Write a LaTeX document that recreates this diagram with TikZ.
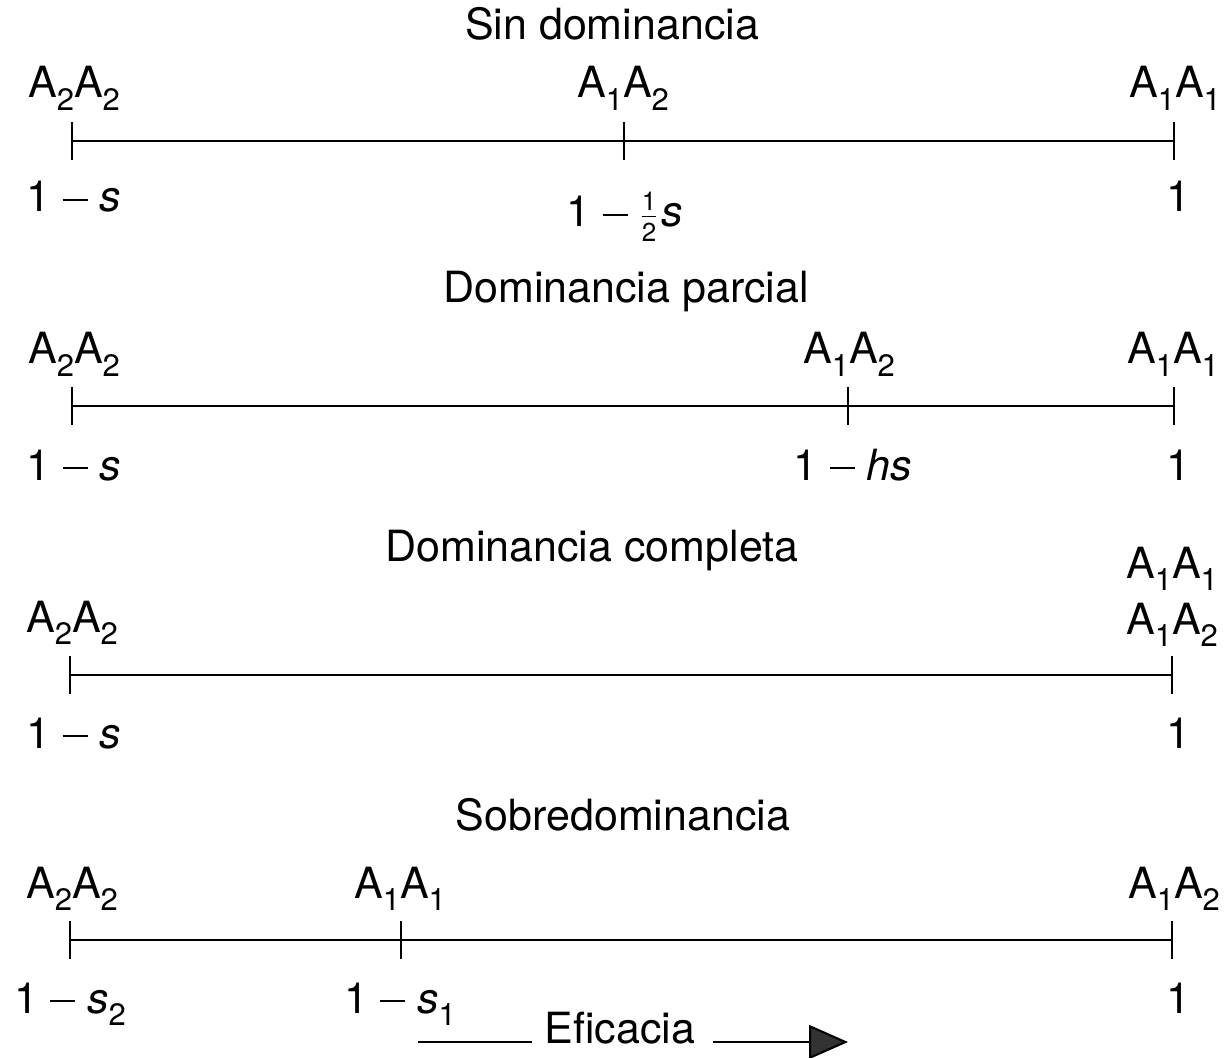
\documentclass[tikz,border=0pt]{standalone}
\usepackage{fontspec}
\setmainfont{TeX Gyre Heros}
\usepackage{graphicx}
\usetikzlibrary{arrows.meta}
\newcommand\lo[1]{\raisebox{-0.28em}{\fontsize{15.5}{16}\selectfont #1}}
\newcommand\gtp[2]{A\lo{#1}A\lo{#2}}
\newcommand\mn{\rule[0.25em]{0.58em}{0.055em}}
\newcommand\halffrac{$\frac{\mbox{\fontsize{13}{13}\selectfont 1}}{\mbox{\fontsize{13}{13}\selectfont 2}}$}
\tikzset{
  axisline/.style={line width=1.05pt},
  tickmark/.style={line width=1.2pt},
  lab/.style={anchor=base, inner sep=0pt, font=\fontsize{21.5}{26}\selectfont},
}
\begin{document}
\begin{tikzpicture}[x=0.5pt,y=-0.5pt]
\path[use as bounding box] (0,0) rectangle (1224,1058);

% ---------- Row 1: Sin dominancia
\node[lab] (t1) at (612,40) {Sin dominancia};
\node[lab] (g11) at (74,98) {\gtp{2}{2}};
\node[lab] (g12) at (623,98) {\gtp{1}{2}};
\node[lab] (g13) at (1175,98) {\gtp{1}{1}};
\coordinate (a1) at (72,141);
\coordinate (b1) at (624,141);
\coordinate (c1) at (1174,141);
\draw[axisline] (a1) -- (c1);
\foreach \p in {a1,b1,c1} \draw[tickmark] ([yshift=9.5pt]\p) -- ([yshift=-9.5pt]\p);
\node[lab] (v11) at (74,212) {1 \mn\ \textit{s}};
\node[lab] (v12) at (625,227) {1 \mn\ \halffrac\kern1.5pt\textit{s}};
\node[lab] (v13) at (1178,212) {1};

% ---------- Row 2: Dominancia parcial
\node[lab] (t2) at (626,303) {Dominancia parcial};
\node[lab] (g21) at (74,364) {\gtp{2}{2}};
\node[lab] (g22) at (849,364) {\gtp{1}{2}};
\node[lab] (g23) at (1173,364) {\gtp{1}{1}};
\coordinate (a2) at (72,406);
\coordinate (b2) at (848,406);
\coordinate (c2) at (1174,406);
\draw[axisline] (a2) -- (c2);
\foreach \p in {a2,b2,c2} \draw[tickmark] ([yshift=9.5pt]\p) -- ([yshift=-9.5pt]\p);
\node[lab] (v21) at (74,480) {1 \mn\ \textit{s}};
\node[lab] (v22) at (853,480) {1 \mn\ \textit{hs}};
\node[lab] (v23) at (1178,480) {1};

% ---------- Row 3: Dominancia completa
\node[lab] (t3) at (592,561) {Dominancia completa};
\node[lab] (g33) at (1172,578) {\gtp{1}{1}};
\node[lab] (g31) at (72,632) {\gtp{2}{2}};
\node[lab] (g32) at (1172,634) {\gtp{1}{2}};
\coordinate (a3) at (70,675);
\coordinate (c3) at (1172,675);
\draw[axisline] (a3) -- (c3);
\foreach \p in {a3,c3} \draw[tickmark] ([yshift=9.5pt]\p) -- ([yshift=-9.5pt]\p);
\node[lab] (v31) at (74,748) {1 \mn\ \textit{s}};
\node[lab] (v33) at (1178,748) {1};

% ---------- Row 4: Sobredominancia
\node[lab] (t4) at (623,830) {Sobredominancia};
\node[lab] (g41) at (72,898) {\gtp{2}{2}};
\node[lab] (g42) at (400,898) {\gtp{1}{1}};
\node[lab] (g43) at (1174,898) {\gtp{1}{2}};
\coordinate (a4) at (70,940);
\coordinate (b4) at (401,940);
\coordinate (c4) at (1172,940);
\draw[axisline] (a4) -- (c4);
\foreach \p in {a4,b4,c4} \draw[tickmark] ([yshift=9.5pt]\p) -- ([yshift=-9.5pt]\p);
\node[lab] (v41) at (70,1013) {1 \mn\ \textit{s}\lo{2}};
\node[lab] (v42) at (400,1013) {1 \mn\ \textit{s}\lo{1}};
\node[lab] (v43) at (1178,1013) {1};

% ---------- Eficacia arrow
\node[lab] (ef) at (620,1043) {Eficacia};
\coordinate (e0) at (418,1042);
\coordinate (e1) at (532,1042);
\coordinate (e2) at (713,1042);
\coordinate (e3) at (848,1042);
\draw[axisline] (e0) -- (e1);
\draw[axisline, -{Triangle[length=19.5pt,width=17pt,fill=black!80]}] (e2) -- (e3);
\end{tikzpicture}
\end{document}
